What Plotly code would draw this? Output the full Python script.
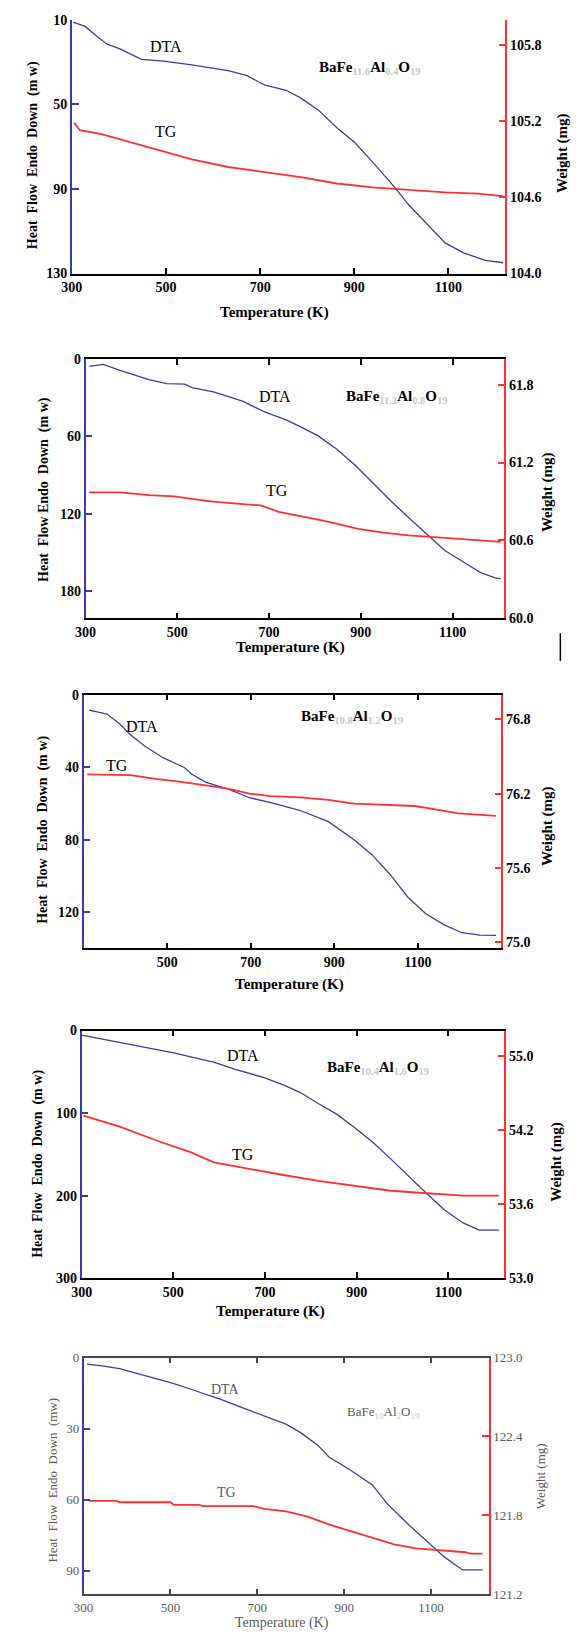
import plotly.graph_objects as go

W, H = 578, 1640

# ---------------- data ----------------
# Panel 1
p1_dta_T = [303, 328, 355, 375, 401, 448, 494, 555, 632, 671, 709, 755, 786, 824, 863, 901, 939, 985, 1016, 1062, 1093, 1132, 1178, 1216]
p1_dta = [11.1, 13.1, 18.1, 21.5, 23.6, 28.7, 29.5, 31.3, 34.0, 36.3, 40.7, 43.3, 46.9, 52.7, 61.0, 68.0, 77.3, 89.0, 97.6, 108.5, 115.5, 120.2, 123.8, 124.9]
p1_tg_T = [305, 317, 363, 401, 478, 555, 632, 709, 786, 863, 939, 1016, 1093, 1162, 1216]
p1_tg = [105.19, 105.13, 105.10, 105.06, 104.98, 104.90, 104.84, 104.80, 104.76, 104.71, 104.68, 104.66, 104.64, 104.63, 104.61]

# Panel 2
p2_dta_T = [308, 339, 375, 438, 477, 516, 532, 579, 642, 689, 737, 768, 807, 847, 886, 925, 965, 1004, 1043, 1083, 1122, 1161, 1193, 1205]
p2_dta = [5.9, 4.4, 9.0, 16.1, 19.2, 19.7, 22.3, 25.6, 32.8, 41.0, 47.4, 52.5, 59.7, 69.9, 81.9, 96.0, 110.0, 122.9, 135.7, 148.5, 157.0, 165.6, 169.7, 170.3]
p2_tg_T = [308, 375, 438, 493, 532, 579, 642, 682, 721, 768, 807, 847, 894, 949, 1004, 1083, 1161, 1205]
p2_tg = [60.97, 60.97, 60.95, 60.94, 60.92, 60.90, 60.88, 60.87, 60.82, 60.79, 60.76, 60.73, 60.69, 60.66, 60.64, 60.62, 60.60, 60.59]

# Panel 3
p3_dta_T = [313, 356, 386, 412, 447, 490, 524, 541, 559, 593, 645, 697, 748, 817, 886, 947, 990, 1033, 1076, 1119, 1162, 1205, 1248, 1287]
p3_dta = [8.5, 10.7, 16.1, 22.1, 28.5, 34.8, 38.4, 40.2, 43.9, 48.4, 52.0, 56.9, 59.6, 63.8, 70.1, 80.1, 88.3, 99.1, 111.8, 120.9, 126.9, 131.4, 132.7, 132.9]
p3_tg_T = [309, 412, 472, 524, 584, 645, 697, 748, 817, 886, 947, 1033, 1093, 1145, 1197, 1287]
p3_tg = [76.355, 76.35, 76.32, 76.30, 76.27, 76.24, 76.20, 76.18, 76.17, 76.15, 76.12, 76.11, 76.10, 76.07, 76.04, 76.02]

# Panel 4
p4_dta_T = [300, 343, 383, 462, 501, 540, 588, 635, 698, 745, 777, 816, 856, 895, 935, 974, 1013, 1053, 1092, 1132, 1167, 1210]
p4_dta = [5.6, 10.0, 14.9, 22.9, 26.9, 32.1, 38.2, 47.0, 57.0, 67.1, 75.1, 88.4, 101.2, 117.3, 135.3, 155.4, 176.7, 197.6, 217.7, 233.0, 241.8, 241.8]
p4_tg_T = [304, 383, 462, 540, 588, 659, 737, 816, 895, 974, 1053, 1132, 1210]
p4_tg = [54.32, 54.23, 54.12, 54.02, 53.94, 53.89, 53.84, 53.79, 53.75, 53.71, 53.69, 53.67, 53.67]

# Panel 5
p5_dta_T = [308, 342, 383, 466, 508, 549, 616, 674, 716, 766, 799, 840, 865, 915, 965, 998, 1048, 1090, 1132, 1173, 1219]
p5_dta = [2.8, 3.5, 4.7, 8.9, 11.0, 13.5, 17.7, 21.8, 24.6, 28.1, 31.6, 37.1, 42.0, 47.6, 53.8, 61.5, 70.5, 77.5, 84.4, 89.7, 89.7]
p5_tg_T = [312, 375, 383, 500, 508, 566, 575, 691, 716, 766, 816, 866, 915, 965, 1015, 1065, 1132, 1180, 1190, 1219]
p5_tg = [121.91, 121.91, 121.90, 121.90, 121.88, 121.88, 121.87, 121.87, 121.85, 121.83, 121.79, 121.73, 121.68, 121.63, 121.58, 121.55, 121.53, 121.52, 121.51, 121.51]

# tick labels
x_ticks_full = [300, 500, 700, 900, 1100]
x_ticks_p3 = [500, 700, 900, 1100]
p1_left_ticks = [10, 50, 90, 130]
p1_right_ticks = [104.0, 104.6, 105.2, 105.8]
p2_left_ticks = [0, 60, 120, 180]
p2_right_ticks = [60.0, 60.6, 61.2, 61.8]
p3_left_ticks = [0, 40, 80, 120]
p3_right_ticks = [75.0, 75.6, 76.2, 76.8]
p4_left_ticks = [0, 100, 200, 300]
p4_right_tickvals = [53.0, 53.6, 54.2, 54.8]
p4_right_ticktext = ["53.0", "53.6", "54.2", "55.0"]
p5_left_ticks = [0, 30, 60, 90]
p5_right_ticks = [121.2, 121.8, 122.4, 123.0]

SUBC = "#c8c8c8"
def formula(fe, al):
    return ("BaFe<sub><span style='color:%s'>%s</span></sub>Al<sub><span style='color:%s'>%s</span></sub>"
            "O<sub><span style='color:%s'>19</span></sub>" % (SUBC, fe, SUBC, al, SUBC))

formulas = [formula("11.6", "0.4"), formula("11.2", "0.8"), formula("10.8", "1.2"),
            formula("10.4", "1.6"), formula("10", "2")]

BLUE = "#3c3ca8"
RED = "#ff3030"
FONT = "Liberation Serif, Times New Roman, serif"

fig = go.Figure()

def px_x(v):
    return v / W

def px_y(v):
    return 1 - v / H

# panel geometry (pixels): left, right, top, bottom
panels = [
    dict(box=(62, 504, 13, 269), xr=[300, 1221], yl=[130, 10], yr=[104.0, 106.0],
         xt=x_ticks_full, ylt=p1_left_ticks, yrt=p1_right_ticks, yrtt=None,
         dT=p1_dta_T, d=p1_dta, tT=p1_tg_T, t=p1_tg, mirror=False,
         dta_lab=(158, 40), tg_lab=(158, 126), form=(365, 62),
         xtitle=(269, 308), lt=(22, 150), rt=(562, 147),
         ytitle="Heat  Flow  Endo  Down  (m w)", col="black", dim=False),
    dict(box=(76, 503, 355, 617), xr=[300, 1213], yl=[201, 0], yr=[60.0, 62.0],
         xt=x_ticks_full, ylt=p2_left_ticks, yrt=p2_right_ticks, yrtt=None,
         dT=p2_dta_T, d=p2_dta, tT=p2_tg_T, t=p2_tg, mirror=True,
         dta_lab=(269, 393), tg_lab=(271, 488), form=(393, 394),
         xtitle=(285, 646), lt=(33, 487), rt=(547, 490),
         ytitle="Heat  Flow Endo  Down  (m w)", col="black", dim=False),
    dict(box=(74, 500, 694, 950), xr=[300, 1300], yl=[140, 0], yr=[74.95, 77.0],
         xt=x_ticks_p3, ylt=p3_left_ticks, yrt=p3_right_ticks, yrtt=None,
         dT=p3_dta_T, d=p3_dta, tT=p3_tg_T, t=p3_tg, mirror=True,
         dta_lab=(134, 726), tg_lab=(108, 766), form=(348, 717),
         xtitle=(284, 987), lt=(33, 830), rt=(547, 827),
         ytitle="Heat  Flow  Endo  Down  (m w)", col="black", dim=False),
    dict(box=(72, 503, 1033, 1283), xr=[300, 1222], yl=[300, 0], yr=[53.0, 55.01],
         xt=x_ticks_full, ylt=p4_left_ticks, yrt=p4_right_tickvals, yrtt=p4_right_ticktext,
         dT=p4_dta_T, d=p4_dta, tT=p4_tg_T, t=p4_tg, mirror=True,
         dta_lab=(236, 1058), tg_lab=(236, 1158), form=(374, 1071),
         xtitle=(265, 1317), lt=(28, 1167), rt=(556, 1165),
         ytitle="Heat  Flow  Endo  Down  (m w)", col="black", dim=False),
    dict(box=(74, 487, 1363, 1602), xr=[300, 1233], yl=[100, 0], yr=[121.2, 123.0],
         xt=x_ticks_full, ylt=p5_left_ticks, yrt=p5_right_ticks, yrtt=None,
         dT=p5_dta_T, d=p5_dta, tT=p5_tg_T, t=p5_tg, mirror=True,
         dta_lab=(219, 1395), tg_lab=(220, 1499), form=(380, 1418),
         xtitle=(276, 1631), lt=(42, 1487), rt=(540, 1483),
         ytitle="Heat  Flow  Endo  Down  (mw)", col="#5a5a5a", dim=True),
]

layout = dict(
    width=W, height=H, margin=dict(l=0, r=0, t=0, b=0),
    paper_bgcolor="white", plot_bgcolor="white", showlegend=False,
    font=dict(family=FONT, color="black", size=14),
)
annotations = []

for i, p in enumerate(panels):
    n = i + 1
    xa = "xaxis" if n == 1 else "xaxis%d" % n
    xr_ = "x" if n == 1 else "x%d" % n
    yl_n = 2 * n - 1
    yr_n = 2 * n
    yla = "yaxis" if yl_n == 1 else "yaxis%d" % yl_n
    ylr = "y" if yl_n == 1 else "y%d" % yl_n
    yra = "yaxis%d" % yr_n
    yrr = "y%d" % yr_n
    l, r, t, b = p["box"]
    wt = "normal" if p["dim"] else "bold"
    tickfont = dict(family=FONT, size=13 if p["dim"] else 14, color=p["col"], weight=wt)
    axcol = "#444444" if p["dim"] else "black"

    layout[xa] = dict(
        domain=[px_x(l), px_x(r)], range=p["xr"], anchor=ylr,
        showgrid=False, zeroline=False, showline=True, linecolor=axcol, linewidth=1.6,
        mirror="ticks" if p["mirror"] else False,
        ticks="inside", ticklen=6, tickwidth=1.5, tickcolor=axcol,
        tickvals=p["xt"], ticktext=[str(v) for v in p["xt"]], tickfont=tickfont,
    )
    layout[yla] = dict(
        domain=[px_y(b), px_y(t)], range=p["yl"], anchor=xr_,
        showgrid=False, zeroline=False, showline=True, linecolor=BLUE, linewidth=1.6,
        ticks="inside", ticklen=7, tickwidth=1.5, tickcolor=BLUE,
        tickvals=p["ylt"], ticktext=[str(v) for v in p["ylt"]], tickfont=tickfont,
    )
    rtext = p["yrtt"] if p["yrtt"] is not None else ["%.1f" % v for v in p["yrt"]]
    layout[yra] = dict(
        overlaying=ylr, side="right", range=p["yr"], anchor=xr_,
        showgrid=False, zeroline=False, showline=True, linecolor=RED, linewidth=1.6,
        ticks="inside", ticklen=7, tickwidth=1.5, tickcolor=RED,
        tickvals=p["yrt"], ticktext=rtext, tickfont=tickfont,
    )

    fig.add_trace(go.Scatter(x=p["dT"], y=p["d"], mode="lines", xaxis=xr_, yaxis=ylr,
                             line=dict(color=BLUE, width=1.3), hoverinfo="skip"))
    fig.add_trace(go.Scatter(x=p["tT"], y=p["t"], mode="lines", xaxis=xr_, yaxis=yrr,
                             line=dict(color=RED, width=1.8), hoverinfo="skip"))

    lab_size = 14 if p["dim"] else 16
    for txt, pos in (("DTA", p["dta_lab"]), ("TG", p["tg_lab"])):
        annotations.append(dict(text=txt, x=px_x(pos[0]), y=px_y(pos[1]), xref="paper", yref="paper",
                                showarrow=False, xanchor="center", yanchor="middle",
                                font=dict(family=FONT, size=lab_size, color=p["col"])))
    annotations.append(dict(text=formulas[i], x=px_x(p["form"][0]), y=px_y(p["form"][1]),
                            xref="paper", yref="paper", showarrow=False,
                            xanchor="center", yanchor="middle",
                            font=dict(family=FONT, size=13 if p["dim"] else 15, color=p["col"], weight=wt)))
    annotations.append(dict(text="Temperature (K)", x=px_x(p["xtitle"][0]), y=px_y(p["xtitle"][1]),
                            xref="paper", yref="paper", showarrow=False,
                            xanchor="center", yanchor="middle",
                            font=dict(family=FONT, size=14 if p["dim"] else 15, color=p["col"], weight=wt)))
    annotations.append(dict(text=p["ytitle"], x=px_x(p["lt"][0]), y=px_y(p["lt"][1]),
                            xref="paper", yref="paper", showarrow=False, textangle=-90,
                            xanchor="center", yanchor="middle",
                            font=dict(family=FONT, size=13 if p["dim"] else 14, color=p["col"], weight=wt)))
    annotations.append(dict(text="Weight (mg)", x=px_x(p["rt"][0]), y=px_y(p["rt"][1]),
                            xref="paper", yref="paper", showarrow=False, textangle=-90,
                            xanchor="center", yanchor="middle",
                            font=dict(family=FONT, size=13 if p["dim"] else 15, color=p["col"], weight=wt)))

layout["annotations"] = annotations
layout["shapes"] = [dict(type="line", xref="paper", yref="paper",
                         x0=px_x(560), x1=px_x(560), y0=px_y(632), y1=px_y(660),
                         line=dict(color="black", width=1.5))]
fig.update_layout(**layout)
fig.write_html("out.html")
